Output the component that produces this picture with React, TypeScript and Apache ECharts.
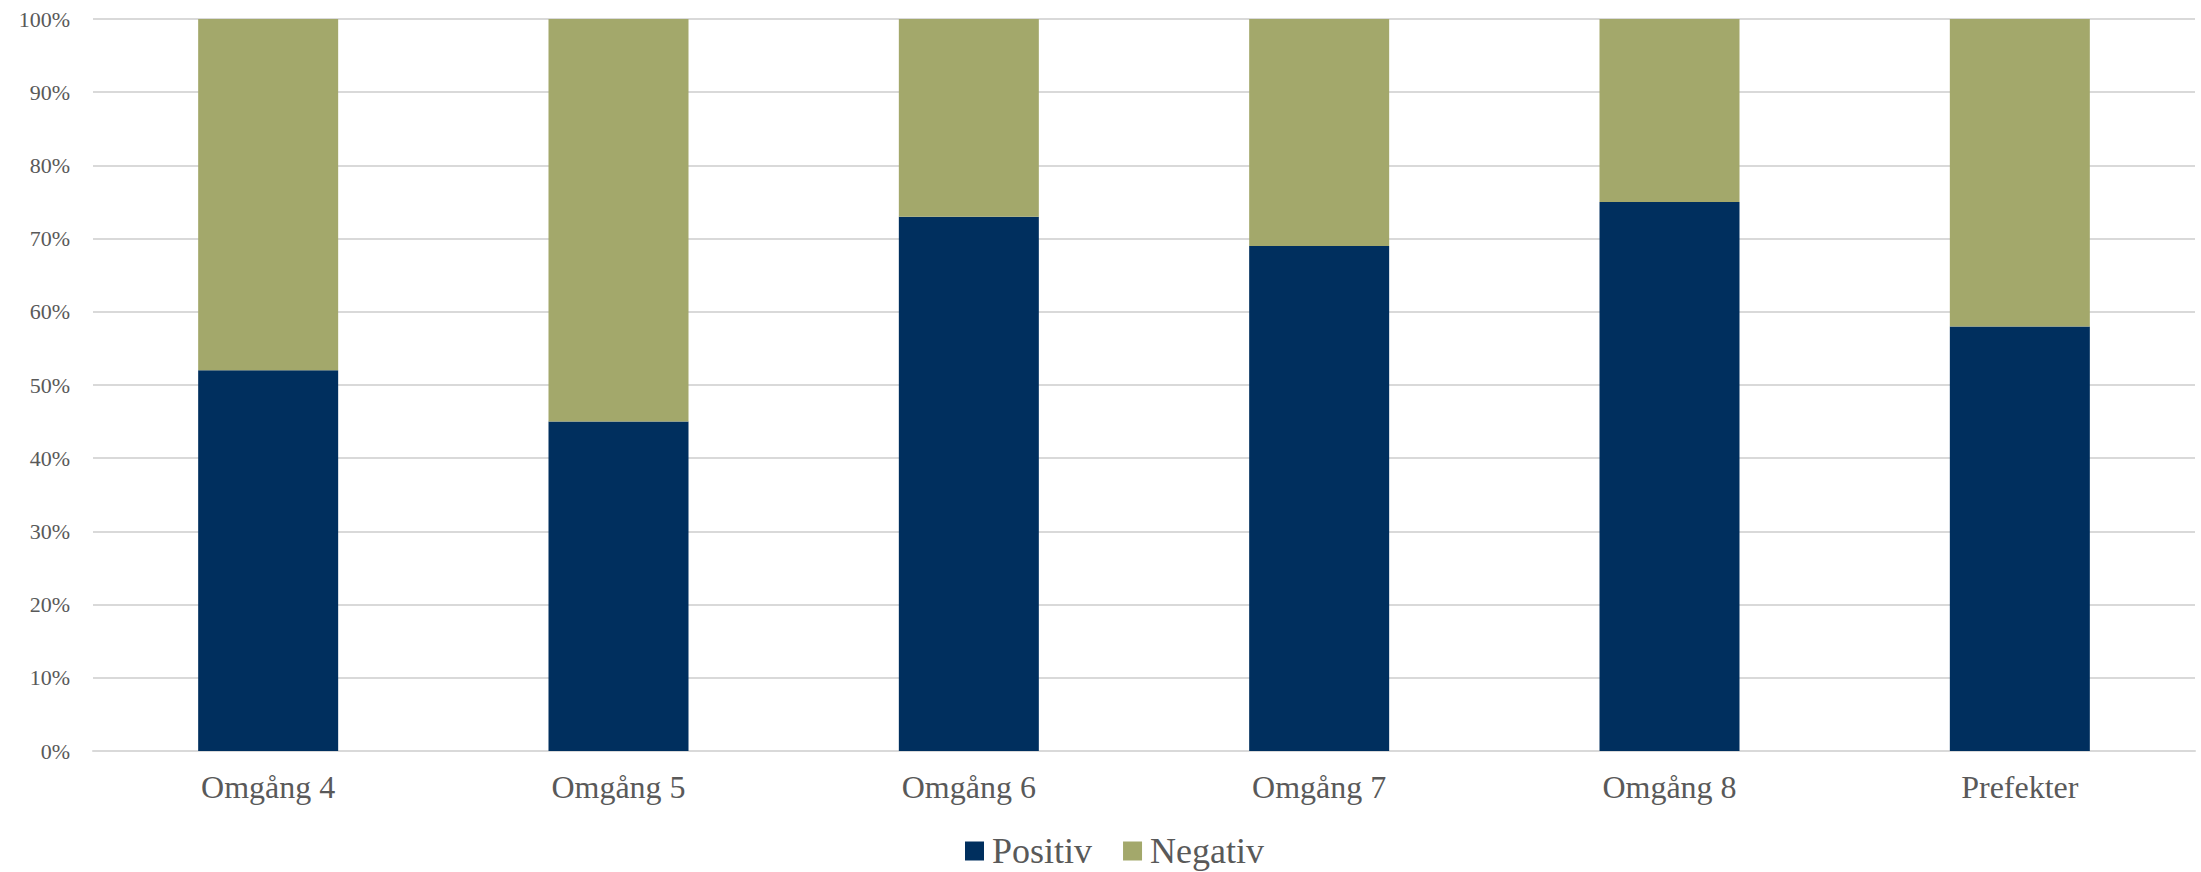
import React, { useEffect, useRef } from "react";
import * as echarts from "echarts";

const categories = ["Omgång 4", "Omgång 5", "Omgång 6", "Omgång 7", "Omgång 8", "Prefekter"];
const positiv = [52, 45, 73, 69, 75, 58];
const negativ = [48, 55, 27, 31, 25, 42];
const seriesNames = ["Positiv", "Negativ"];
const colors = ["#002F5E", "#A3A86B"];

const FONT = "'Liberation Serif', 'Times New Roman', serif";
const TEXT = "#595959";

export default function App() {
  const ref = useRef<HTMLDivElement>(null);
  useEffect(() => {
    if (!ref.current) return;
    const chart = echarts.init(ref.current, undefined, { renderer: "svg" });
    chart.setOption({
      animation: false,
      backgroundColor: "#ffffff",
      textStyle: { fontFamily: FONT },
      grid: { left: 93, right: 6, top: 19, bottom: 121, containLabel: false },
      legend: {
        data: seriesNames,
        left: 965,
        top: 833,
        padding: 0,
        itemGap: 31,
        itemWidth: 19,
        itemHeight: 19,
        icon: "rect",
        textStyle: { fontFamily: FONT, fontSize: 36, color: TEXT, padding: [0, 0, 0, 3] },
      },
      xAxis: {
        type: "category",
        data: categories,
        axisLine: { show: true, lineStyle: { color: "#D9D9D9", width: 2 } },
        axisTick: { show: false },
        axisLabel: { fontFamily: FONT, fontSize: 32, color: TEXT, margin: 20 },
      },
      yAxis: {
        type: "value",
        min: 0,
        max: 100,
        interval: 10,
        axisLine: { show: false },
        axisTick: { show: false },
        splitLine: { lineStyle: { color: "#D9D9D9", width: 2 } },
        axisLabel: { fontFamily: FONT, fontSize: 22, color: TEXT, margin: 23, formatter: "{value}%" },
      },
      series: [
        {
          name: seriesNames[0],
          type: "bar",
          stack: "total",
          data: positiv,
          barWidth: 140,
          itemStyle: { color: colors[0] },
        },
        {
          name: seriesNames[1],
          type: "bar",
          stack: "total",
          data: negativ,
          barWidth: 140,
          itemStyle: { color: colors[1] },
        },
      ],
    });
    return () => chart.dispose();
  }, []);
  return (
    <div
      ref={ref}
      style={{ position: "fixed", left: 0, top: 0, width: 2201, height: 872, background: "#fff" }}
    />
  );
}
